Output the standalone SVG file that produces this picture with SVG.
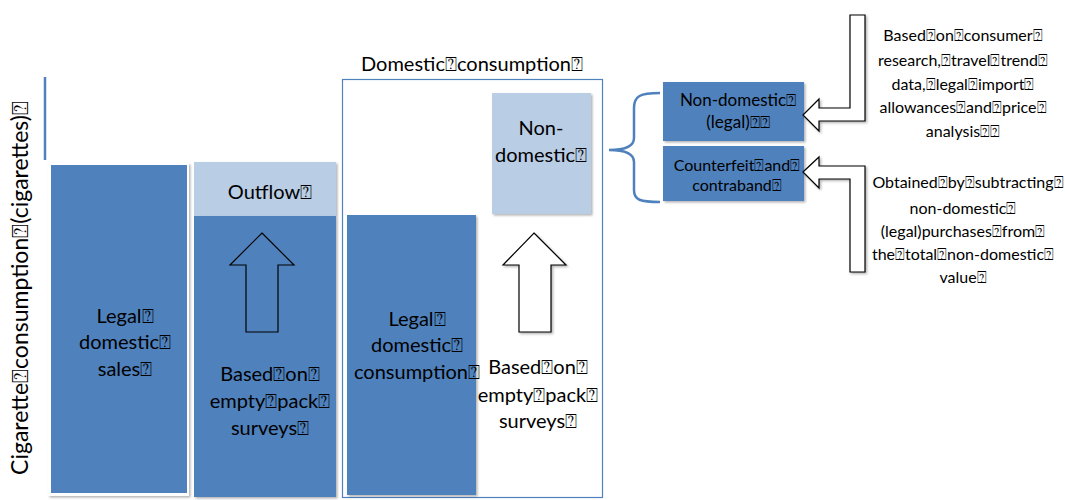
<svg xmlns="http://www.w3.org/2000/svg" width="1065" height="500" viewBox="0 0 1065 500">
<style>
text{font-family:Lato,"Open Sans","DejaVu Sans",sans-serif;fill:#000;text-anchor:middle}
.big{font-size:20px}
.axis{font-size:23px}
.mid{font-size:17px}
.sm{font-size:16px}
.dark{fill:#4F81BD}
.light{fill:#B9CDE5}
.arrow{stroke:#000;stroke-width:1.2;stroke-linejoin:miter}
.blue{fill:none;stroke:#4F81BD}
</style>
<defs>
<filter id="sh" x="-10%" y="-10%" width="130%" height="130%">
<feDropShadow dx="1.5" dy="1.5" stdDeviation="1.2" flood-color="#000" flood-opacity="0.3"/>
</filter>
</defs>
<rect width="1065" height="500" fill="#fff"/>

<g id="axis">
<line x1="45" y1="77" x2="45" y2="160" class="blue" stroke-width="2.5"/>
<text class="axis" transform="translate(28,288) rotate(-90)">Cigarette⍰consumption⍰(cigarettes)⍰</text>
</g>

<g id="legal-sales">
<rect x="48" y="163" width="141" height="333" fill="#fff" filter="url(#sh)"/>
<rect x="51" y="165" width="136" height="328" class="dark"/>
<text class="big" x="125" y="323">Legal⍰</text>
<text class="big" x="125" y="349">domestic⍰</text>
<text class="big" x="125" y="376">sales⍰</text>
</g>

<g id="outflow">
<rect x="194" y="162" width="142" height="54" class="light" filter="url(#sh)"/>
<text class="big" x="270" y="199">Outflow⍰</text>
</g>

<g id="empty-pack-1">
<rect x="194" y="216" width="142" height="281" class="dark" filter="url(#sh)"/>
<polygon class="arrow dark" points="262,233 294,265 278,265 278,332 246,332 246,265 230,265"/>
<text class="big" x="270" y="381">Based⍰on⍰</text>
<text class="big" x="270" y="408">empty⍰pack⍰</text>
<text class="big" x="270" y="435">surveys⍰</text>
</g>

<g id="domestic-consumption">
<rect x="342.5" y="79.5" width="260" height="418" class="blue" stroke-width="1.2"/>
<text class="big" x="472" y="71">Domestic⍰consumption⍰</text>
</g>

<g id="non-domestic">
<rect x="492" y="93" width="99" height="121" class="light" filter="url(#sh)"/>
<text class="big" x="541" y="135">Non-</text>
<text class="big" x="541" y="162">domestic⍰</text>
</g>

<g id="legal-consumption">
<rect x="347" y="215" width="129" height="280" class="dark" filter="url(#sh)"/>
<text class="big" x="417" y="326">Legal⍰</text>
<text class="big" x="417" y="352">domestic⍰</text>
<text class="big" x="417" y="379">consumption⍰</text>
</g>

<g id="empty-pack-2">
<polygon class="arrow" fill="#fff" points="534,233 566,265 551,265 551,332 519,332 519,265 503,265" filter="url(#sh)"/>
<text class="big" x="538" y="374">Based⍰on⍰</text>
<text class="big" x="538" y="402">empty⍰pack⍰</text>
<text class="big" x="538" y="428">surveys⍰</text>
</g>

<g id="non-domestic-legal">
<rect x="663" y="82" width="141" height="59" class="dark" filter="url(#sh)"/>
<text class="mid" x="738" y="106">Non-domestic⍰</text>
<text class="mid" x="738" y="128">(legal)⍰⍰</text>
</g>

<g id="counterfeit">
<rect x="663" y="146" width="141" height="55" class="dark" filter="url(#sh)"/>
<text class="sm" x="737" y="171">Counterfeit⍰and⍰</text>
<text class="sm" x="737" y="191">contraband⍰</text>
</g>

<g id="note-top">
<polygon class="arrow" fill="#fff" points="850,15 865,15 865,121 819,121 819,131 803,115 819,99 819,108 850,108" filter="url(#sh)"/>
<text class="sm" x="963" y="41">Based⍰on⍰consumer⍰</text>
<text class="sm" x="963" y="66">research,⍰travel⍰trend⍰</text>
<text class="sm" x="963" y="90">data,⍰legal⍰import⍰</text>
<text class="sm" x="963" y="113">allowances⍰and⍰price⍰</text>
<text class="sm" x="963" y="137">analysis⍰⍰</text>
</g>

<g id="note-bottom">
<polygon class="arrow" fill="#fff" points="803,172 819,157 819,166 865,166 865,272 850,272 850,179 819,179 819,188" filter="url(#sh)"/>
<text class="sm" x="968" y="188">Obtained⍰by⍰subtracting⍰</text>
<text class="sm" x="963" y="214">non-domestic⍰</text>
<text class="sm" x="963" y="237">(legal)purchases⍰from⍰</text>
<text class="sm" x="963" y="260">the⍰total⍰non-domestic⍰</text>
<text class="sm" x="963" y="283">value⍰</text>
</g>

<g id="connectors">
<path d="M660,93 C640,93 634,96 634,108 L634,138 C634,146 626,150 609,150 C626,150 634,154 634,162 L634,190 C634,200 640,202 660,202" class="blue" stroke-width="2.5"/>
</g>
</svg>
